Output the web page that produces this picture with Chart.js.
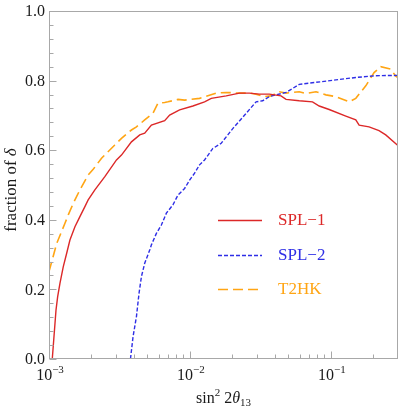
<!DOCTYPE html>
<html><head><meta charset="utf-8">
<script src="https://cdn.jsdelivr.net/npm/chart.js@4"></script>
<style>html,body{margin:0;padding:0;background:#fff}#wrap{width:399px;height:411px}</style>
</head><body><div id="wrap"><canvas id="c" width="399" height="411"></canvas></div>
<script>
const spl1X=[1.055e-3,1.121e-3,1.152e-3,1.196e-3,1.262e-3,1.335e-3,1.408e-3,1.528e-3,1.657e-3,1.798e-3,1.897e-3,2.116e-3,2.491e-3,3.013e-3,3.269e-3,3.848e-3,4.406e-3,4.779e-3,5.332e-3,6.622e-3,7.183e-3,8.455e-3,1.050e-2,1.271e-2,1.418e-2,1.810e-2,2.247e-2,2.646e-2,3.113e-2,3.664e-2,4.437e-2,4.812e-2,5.976e-2,7.42e-2,8.28e-2,9.74e-2,0.1279,0.1505,0.1589,0.1870,0.2200,0.2455,0.2965];
const spl1Y=[0.0,0.14,0.179,0.217,0.265,0.304,0.342,0.38,0.409,0.438,0.457,0.486,0.524,0.572,0.586,0.624,0.644,0.649,0.672,0.685,0.701,0.716,0.727,0.739,0.749,0.756,0.764,0.764,0.761,0.761,0.756,0.746,0.742,0.739,0.727,0.717,0.698,0.687,0.672,0.667,0.656,0.644,0.615];
const spl2X=[3.786e-3,3.950e-3,4.175e-3,4.356e-3,4.530e-3,4.779e-3,5.186e-3,5.332e-3,5.783e-3,6.275e-3,6.808e-3,7.58e-3,8.225e-3,9.173e-3,9.95e-3,1.080e-2,1.171e-2,1.271e-2,1.455e-2,1.668e-2,1.858e-2,2.015e-2,2.507e-2,2.951e-2,3.286e-2,3.664e-2,4.089e-2,4.812e-2,5.976e-2,7.848e-2,0.1087,0.1505,0.2085,0.30];
const spl2Y=[0.0,0.064,0.122,0.189,0.237,0.275,0.313,0.328,0.361,0.385,0.419,0.443,0.471,0.490,0.514,0.534,0.558,0.572,0.605,0.620,0.644,0.662,0.706,0.739,0.742,0.754,0.759,0.766,0.789,0.795,0.802,0.809,0.814,0.815];
const t2hkX=[1.0e-3,1.134e-3,1.298e-3,1.370e-3,1.486e-3,1.657e-3,1.897e-3,2.059e-3,2.360e-3,2.931e-3,3.269e-3,3.848e-3,4.175e-3,4.779e-3,5.471e-3,5.935e-3,6.622e-3,6.99e-3,8.225e-3,9.173e-3,1.171e-2,1.538e-2,1.810e-2,2.247e-2,2.646e-2,2.951e-2,3.379e-2,3.768e-2,4.313e-2,4.812e-2,5.976e-2,6.665e-2,7.848e-2,9.234e-2,0.1087,0.1350,0.1505,0.1772,0.2029,0.2263,0.2663,0.2888,0.30];
const t2hkY=[0.251,0.332,0.39,0.414,0.447,0.486,0.529,0.545,0.577,0.615,0.634,0.658,0.667,0.687,0.706,0.735,0.737,0.739,0.746,0.744,0.749,0.764,0.766,0.764,0.764,0.761,0.754,0.756,0.768,0.764,0.768,0.763,0.768,0.759,0.754,0.739,0.749,0.785,0.823,0.840,0.833,0.813,0.809];
const seriesNames=['SPL\u22121','SPL\u22122','T2HK'];
const xMajorTicks=[1e-3,1e-2,1e-1];
const xMajorExp=['\u22123','\u22122','\u22121'];
const xMinorTicks=[2e-3,3e-3,4e-3,5e-3,6e-3,7e-3,8e-3,9e-3,2e-2,3e-2,4e-2,5e-2,6e-2,7e-2,8e-2,9e-2,0.2];
const yMajorTicks=[0,0.2,0.4,0.6,0.8,1.0];
const yTickLabels=['0.0','0.2','0.4','0.6','0.8','1.0'];
const yMinorTicks=[0.04,0.08,0.12,0.16,0.24,0.28,0.32,0.36,0.44,0.48,0.52,0.56,0.64,0.68,0.72,0.76,0.84,0.88,0.92,0.96];

const RED='#dc2828', BLUE='#2e2ee6', ORANGE='#ffa514';
const pts=(xs,ys)=>xs.map((x,i)=>({x:x,y:ys[i]}));
const SERIF='"Liberation Serif","DejaVu Serif",serif';

const deco={
  id:'deco',
  afterDraw(chart){
    const ctx=chart.ctx, a=chart.chartArea, xs=chart.scales.x, ys=chart.scales.y;
    ctx.save();
    ctx.strokeStyle='#a8a8a8'; ctx.lineWidth=1;
    ctx.strokeRect(Math.round(a.left)+0.5,Math.round(a.top)+0.5,Math.round(a.right-a.left)-1,Math.round(a.bottom-a.top)-1);
    ctx.beginPath();
    const B=Math.round(a.bottom)-0.5, L=Math.round(a.left)+0.5;
    xMajorTicks.forEach(v=>{const p=Math.round(xs.getPixelForValue(v))+0.5;ctx.moveTo(p,B);ctx.lineTo(p,B-7);});
    xMinorTicks.forEach(v=>{const p=Math.round(xs.getPixelForValue(v))+0.5;ctx.moveTo(p,B);ctx.lineTo(p,B-4);});
    yMajorTicks.forEach(v=>{const p=Math.round(ys.getPixelForValue(v))+0.5;ctx.moveTo(L,p);ctx.lineTo(L+7,p);});
    yMinorTicks.forEach(v=>{const p=Math.round(ys.getPixelForValue(v))+0.5;ctx.moveTo(L,p);ctx.lineTo(L+4,p);});
    ctx.stroke();
    ctx.fillStyle='#1a1a1a';
    ctx.font='16px '+SERIF; ctx.textAlign='right'; ctx.textBaseline='middle';
    yMajorTicks.forEach((v,i)=>{ctx.fillText(yTickLabels[i],a.left-4,ys.getPixelForValue(v)+1);});
    ctx.textBaseline='alphabetic'; ctx.textAlign='left';
    xMajorTicks.forEach((v,i)=>{
      const p=xs.getPixelForValue(v);
      ctx.font='16px '+SERIF; const w1=ctx.measureText('10').width;
      ctx.font='11px '+SERIF; const w2=ctx.measureText(xMajorExp[i]).width;
      const x0=p-(w1+w2)/2+1;
      ctx.font='16px '+SERIF; ctx.fillText('10',x0,a.bottom+21);
      ctx.font='11px '+SERIF; ctx.fillText(xMajorExp[i],x0+w1,a.bottom+14);
    });
    const parts=[['sin','16px '+SERIF,0],['2','11px '+SERIF,-7],[' 2','16px '+SERIF,0],['\u03b8','italic 16px '+SERIF,0],['13','11px '+SERIF,3]];
    let tw=0; parts.forEach(p=>{ctx.font=p[1];tw+=ctx.measureText(p[0]).width;});
    let cx=(a.left+a.right)/2-tw/2; const by=a.bottom+44;
    parts.forEach(p=>{ctx.font=p[1];ctx.fillText(p[0],cx,by+p[2]);cx+=ctx.measureText(p[0]).width;});
    ctx.save();
    ctx.translate(16,190); ctx.rotate(-Math.PI/2);
    const yp=[['fraction of ','17px '+SERIF],['\u03b4','italic 17px '+SERIF]];
    let yw=0; yp.forEach(p=>{ctx.font=p[1];yw+=ctx.measureText(p[0]).width;});
    let yx=-yw/2; yp.forEach(p=>{ctx.font=p[1];ctx.fillText(p[0],yx,0);yx+=ctx.measureText(p[0]).width;});
    ctx.restore();
    const cols=[RED,BLUE,ORANGE], dashes=[[],[4,2],[10,5]], ly=[220,255,289];
    for(let i=0;i<3;i++){
      ctx.strokeStyle=cols[i]; ctx.lineWidth=1.4; ctx.setLineDash(dashes[i]);
      ctx.beginPath(); ctx.moveTo(218,ly[i]+0.5); ctx.lineTo(262,ly[i]+0.5); ctx.stroke();
      ctx.setLineDash([]);
      ctx.fillStyle=cols[i]; ctx.font='17px '+SERIF; ctx.textBaseline='middle';
      ctx.fillText(seriesNames[i],278,ly[i]+1);
    }
    ctx.restore();
  }
};

new Chart(document.getElementById('c'),{
  type:'line',
  data:{datasets:[
    {label:seriesNames[0],data:pts(spl1X,spl1Y),borderColor:RED,borderWidth:1.4,pointRadius:0,tension:0,fill:false},
    {label:seriesNames[1],data:pts(spl2X,spl2Y),borderColor:BLUE,borderWidth:1.4,borderDash:[4,2],pointRadius:0,tension:0,fill:false},
    {label:seriesNames[2],data:pts(t2hkX,t2hkY),borderColor:ORANGE,borderWidth:1.6,borderDash:[10,5],pointRadius:0,tension:0,fill:false}
  ]},
  options:{
    responsive:false,animation:false,
    layout:{padding:{left:49,top:11,right:1,bottom:52}},
    plugins:{legend:{display:false},tooltip:{enabled:false}},
    scales:{
      x:{type:'logarithmic',min:1e-3,max:0.3,display:false},
      y:{type:'linear',min:0,max:1,display:false}
    }
  },
  plugins:[deco]
});
</script></body></html>
